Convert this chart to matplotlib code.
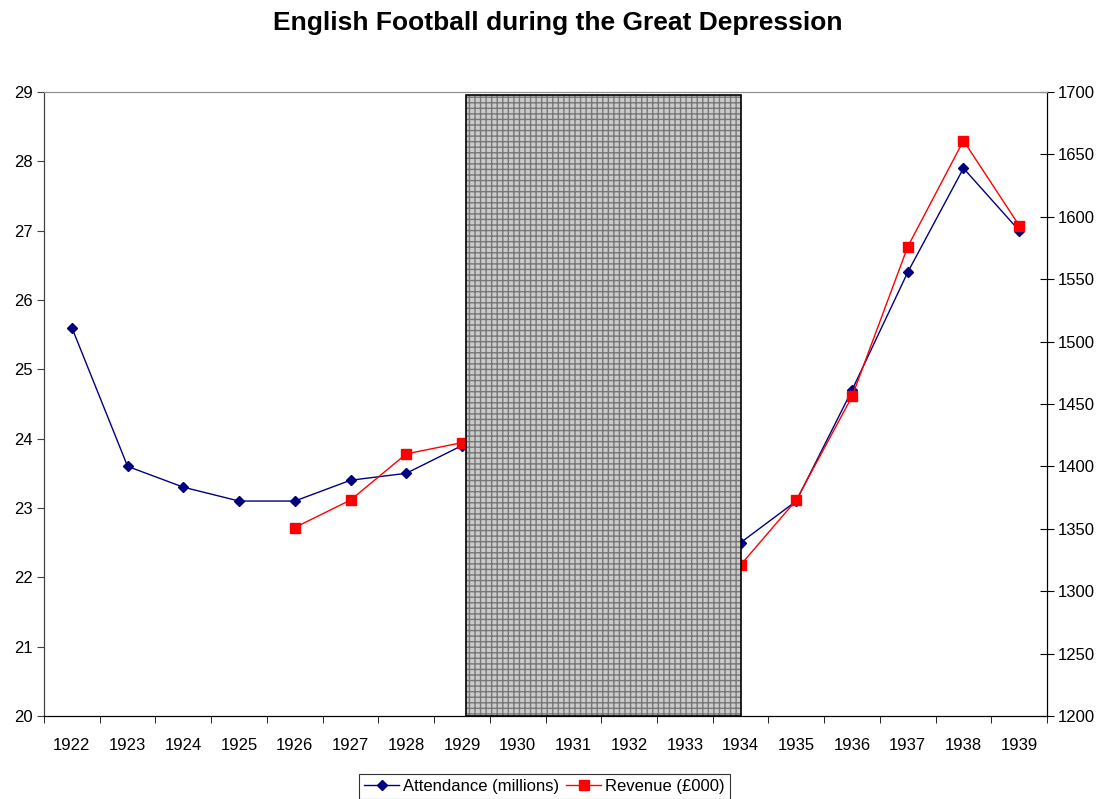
import numpy as np
import matplotlib.pyplot as plt
from matplotlib.patches import Rectangle

plt.rcParams['font.family'] = ['Liberation Sans', 'DejaVu Sans']

# seasons 1922-1939, depression years hidden behind the shaded block
years = list(range(1922, 1940))
attendance = [25.6, 23.6, 23.3, 23.1, 23.1, 23.4, 23.5, 23.9,
              np.nan, np.nan, np.nan, np.nan,
              22.5, 23.1, 24.7, 26.4, 27.9, 27.0]
revenue = [np.nan, np.nan, np.nan, np.nan, 1351, 1373, 1410, 1419,
           np.nan, np.nan, np.nan, np.nan,
           1321, 1373, 1456, 1576, 1661, 1593]

# shaded span (category positions)
shade_start, shade_end = 7.07, 12.0

fig = plt.figure(figsize=(10.98, 7.99), dpi=100)
ax = fig.add_axes([0.0401, 0.1039, 0.9135, 0.781])
ax2 = ax.twinx()

x = np.arange(len(years))
l1, = ax.plot(x, attendance, color='#000080', lw=1, marker='D', ms=5,
              label='Attendance (millions)')
l2, = ax2.plot(x, revenue, color='red', lw=1, marker='s', ms=7,
               label='Revenue (£000)')

ax.set_xlim(-0.5, len(years) - 0.5)
ax.set_ylim(20, 29)
ax2.set_ylim(1200, 1700)
ax.set_yticks(range(20, 30))
ax2.set_yticks(range(1200, 1701, 50))

ax.set_xticks(x)
ax.set_xticklabels([str(y) for y in years])
ax.set_xticks(np.arange(-0.5, len(years)), minor=True)
ax.tick_params(axis='x', which='major', length=0, pad=16, labelsize=12)
ax.tick_params(axis='x', which='minor', length=5, direction='out', color='black')
ax.tick_params(axis='y', length=5, direction='out', labelsize=12, pad=3, color='#404040')
ax2.tick_params(axis='y', length=10, direction='inout', labelsize=12, pad=3, color='black')

for a in (ax, ax2):
    a.spines['top'].set_color('#909090')
    a.spines['left'].set_color('#404040')
    a.spines['right'].set_color('black')
    a.spines['bottom'].set_color('black')

# dotted grey block over the depression years
ax2.add_patch(Rectangle((shade_start, 1200), shade_end - shade_start, 497.6,
                        facecolor='#cbcbcb', edgecolor='#777777', hatch='+++',
                        lw=0, zorder=5))
ax2.add_patch(Rectangle((shade_start, 1200), shade_end - shade_start, 497.6,
                        facecolor='none', edgecolor='black', lw=1.2, zorder=6))

fig.suptitle('English Football during the Great Depression', x=0.508, y=0.986,
             fontsize=19, fontweight='bold')

leg = fig.legend(handles=[l1, l2], loc='upper center', bbox_to_anchor=(0.496, 0.031),
                 ncol=2, fontsize=12, frameon=True, fancybox=False,
                 edgecolor='black', handlelength=2.1, columnspacing=0.4,
                 handletextpad=0.25, borderpad=0.3, borderaxespad=0)
leg.get_frame().set_linewidth(0.8)

fig.savefig('out.png', dpi=100)
